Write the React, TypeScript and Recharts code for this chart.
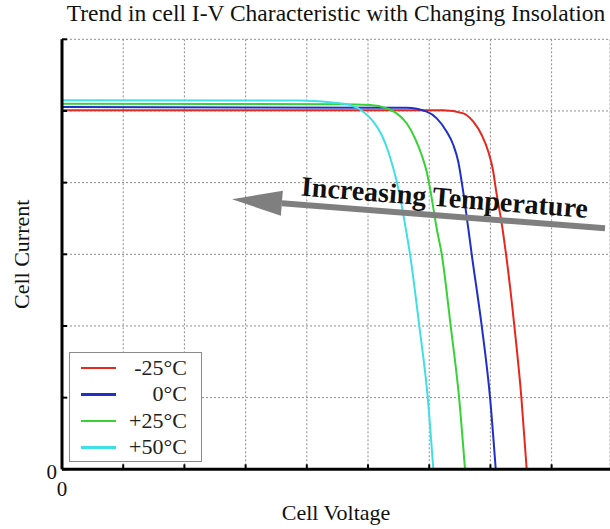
import React from "react";
import {
  LineChart,
  Line,
  XAxis,
  YAxis,
  CartesianGrid,
  Legend,
  ReferenceLine,
} from "recharts";

const FONT = '"Liberation Serif", "Times New Roman", serif';

// Cell voltage / current samples for each temperature
const voltsM25 = [0, 6.23, 6.557, 6.721, 6.858, 6.966, 7.047, 7.087, 7.201, 7.255, 7.391, 7.505, 7.593];
const ampsM25 = [5.01, 5.01, 4.967, 4.85, 4.664, 4.431, 4.152, 3.921, 3.339, 3.004, 2.0, 1.01, 0];

const volts0 = [0, 5.632, 5.959, 6.123, 6.286, 6.394, 6.475, 6.547, 6.642, 6.694, 6.858, 6.993, 7.087];
const amps0 = [5.055, 5.045, 4.99, 4.897, 4.71, 4.525, 4.292, 3.921, 3.339, 3.004, 2.0, 1.01, 0];

const volts25 = [0, 4.542, 5.033, 5.306, 5.469, 5.632, 5.768, 5.877, 5.959, 6.013, 6.127, 6.204, 6.351, 6.487, 6.585];
const amps25 = [5.1, 5.094, 5.083, 5.037, 4.967, 4.828, 4.618, 4.385, 4.152, 3.921, 3.339, 3.004, 2.0, 1.01, 0];

const volts50 = [0, 3.889, 4.379, 4.706, 4.923, 5.087, 5.224, 5.332, 5.413, 5.495, 5.621, 5.686, 5.838, 5.975, 6.067];
const amps50 = [5.15, 5.146, 5.121, 5.083, 4.99, 4.85, 4.664, 4.431, 4.2, 3.921, 3.339, 3.003, 2.0, 1.01, 0];

const seriesNames = ["-25°C", "0°C", "+25°C", "+50°C"];
const seriesColors = ["#e8271f", "#1f2fc8", "#36d236", "#40dfe8"];

const xTicks = [0, 1, 2, 3, 4, 5, 6, 7, 8];
const yTicks = [0, 1, 2, 3, 4, 5, 6];

const zip = (v: number[], i: number[]) => v.map((x, k) => ({ v: x, i: i[k] }));
const curves = [
  zip(voltsM25, ampsM25),
  zip(volts0, amps0),
  zip(volts25, amps25),
  zip(volts50, amps50),
];

// arrow runs from the tail (right) to the tip (left), in axis units
const arrowTail = { x: 8.873, y: 3.363 };
const arrowTip = { x: 2.778, y: 3.767 };

const XTick = (props: any) => {
  const { x, y, payload } = props;
  return (
    <g>
      <line x1={x} y1={y} x2={x} y2={y - 5} stroke="#000" strokeWidth={2} />
      {payload.value === 0 && (
        <text x={x} y={y + 26.5} textAnchor="middle" fontFamily={FONT} fontSize={21} fill="#111">
          0
        </text>
      )}
    </g>
  );
};

const YTick = (props: any) => {
  const { x, y, payload } = props;
  return (
    <g>
      <line x1={x} y1={y} x2={x + 5} y2={y} stroke="#000" strokeWidth={2} />
      {payload.value === 0 && (
        <text x={x - 5} y={y + 9.5} textAnchor="end" fontFamily={FONT} fontSize={21} fill="#111">
          0
        </text>
      )}
    </g>
  );
};

const TrendArrow = (props: any) => {
  const { x1, y1, x2, y2 } = props;
  const dx = x2 - x1;
  const dy = y2 - y1;
  const len = Math.hypot(dx, dy);
  const ux = dx / len;
  const uy = dy / len;
  const nx = -uy;
  const ny = ux;
  const headLen = 50;
  const headHalf = 12.5;
  const bx = x2 - ux * headLen;
  const by = y2 - uy * headLen;
  const head = `${x2},${y2} ${bx + nx * headHalf},${by + ny * headHalf} ${bx - nx * headHalf},${by - ny * headHalf}`;
  // text reads left to right, i.e. tip -> tail
  const ang = (Math.atan2(y1 - y2, x1 - x2) * 180) / Math.PI;
  const t = 0.566;
  const px = x2 + (x1 - x2) * t;
  const py = y2 + (y1 - y2) * t;
  const rad = (ang * Math.PI) / 180;
  const cx = px + Math.sin(rad) * 9;
  const cy = py - Math.cos(rad) * 9;
  return (
    <g>
      <line x1={x1} y1={y1} x2={bx} y2={by} stroke="#7f7f7f" strokeWidth={6} />
      <polygon points={head} fill="#7f7f7f" />
      <text
        x={cx}
        y={cy}
        textAnchor="middle"
        fontFamily={FONT}
        fontWeight="bold"
        fontSize={28}
        fill="#111"
        transform={`rotate(${ang} ${cx} ${cy})`}
      >
        Increasing Temperature
      </text>
    </g>
  );
};

const LegendBox = (props: any) => {
  const items = [...(props.payload || [])].sort(
    (a: any, b: any) => seriesNames.indexOf(a.value) - seriesNames.indexOf(b.value)
  );
  return (
    <div
      style={{
        boxSizing: "border-box",
        width: 133,
        height: 110,
        border: "1.5px solid #8c8c8c",
        background: "#fff",
        paddingTop: 1.5,
        fontFamily: FONT,
      }}
    >
      {items.map((p: any) => (
        <div
          key={p.value}
          style={{ display: "flex", alignItems: "center", height: 26.5, position: "relative" }}
        >
          <div style={{ position: "absolute", left: 11, width: 35, height: 2.5, background: p.color }} />
          <div
            style={{
              position: "absolute",
              right: 14,
              fontSize: 22,
              lineHeight: "26px",
              color: "#222",
            }}
          >
            {p.value}
          </div>
        </div>
      ))}
    </div>
  );
};

export default function App() {
  return (
    <div
      style={{
        position: "absolute",
        left: 0,
        top: 0,
        width: 610,
        height: 529,
        background: "#fff",
        overflow: "hidden",
        fontFamily: FONT,
      }}
    >
      <LineChart width={610} height={529} margin={{ top: 39.3, right: 0, bottom: 58.7, left: 61 }}>
        <CartesianGrid stroke="#8d8d8d" strokeDasharray="2 2" strokeWidth={1} />
        <XAxis
          type="number"
          dataKey="v"
          domain={[0, 8.954]}
          ticks={xTicks}
          height={1}
          tickSize={0}
          tickMargin={0}
          tick={<XTick />}
          axisLine={{ stroke: "#000", strokeWidth: 3 }}
          tickLine={false}
          allowDataOverflow
          label={{
            content: (p: any) => {
              const vb = p.viewBox;
              return (
                <text
                  x={vb.x + vb.width / 2}
                  y={vb.y + 51}
                  textAnchor="middle"
                  fontFamily={FONT}
                  fontSize={22}
                  fill="#111"
                >
                  Cell Voltage
                </text>
              );
            },
          }}
        />
        <YAxis
          type="number"
          dataKey="i"
          domain={[0, 6]}
          ticks={yTicks}
          width={1}
          tickSize={0}
          tickMargin={0}
          tick={<YTick />}
          axisLine={{ stroke: "#000", strokeWidth: 3 }}
          tickLine={false}
          label={{
            content: (p: any) => {
              const vb = p.viewBox;
              const cx = vb.x + vb.width - 40;
              const cy = vb.y + vb.height / 2;
              return (
                <text
                  x={cx}
                  y={cy}
                  textAnchor="middle"
                  dominantBaseline="central"
                  fontFamily={FONT}
                  fontSize={22}
                  fill="#111"
                  transform={`rotate(-90 ${cx} ${cy})`}
                >
                  Cell Current
                </text>
              );
            },
          }}
        />
        {curves.map((data, k) => (
          <Line
            key={seriesNames[k]}
            data={data}
            dataKey="i"
            name={seriesNames[k]}
            type="monotone"
            stroke={seriesColors[k]}
            strokeWidth={2}
            dot={false}
            isAnimationActive={false}
          />
        ))}
        <ReferenceLine segment={[arrowTail, arrowTip]} shape={<TrendArrow />} />
        <Legend
          layout="vertical"
          align="center"
          verticalAlign="middle"
          content={<LegendBox />}
          wrapperStyle={{ left: 69, top: 352, width: 133, height: 110 }}
        />
      </LineChart>
      <div
        style={{
          position: "absolute",
          left: 0,
          top: 0,
          width: 672,
          textAlign: "center",
          fontSize: 23.5,
          lineHeight: "26px",
          color: "#111",
          whiteSpace: "nowrap",
        }}
      >
        Trend in cell I-V Characteristic with Changing Insolation
      </div>
    </div>
  );
}
